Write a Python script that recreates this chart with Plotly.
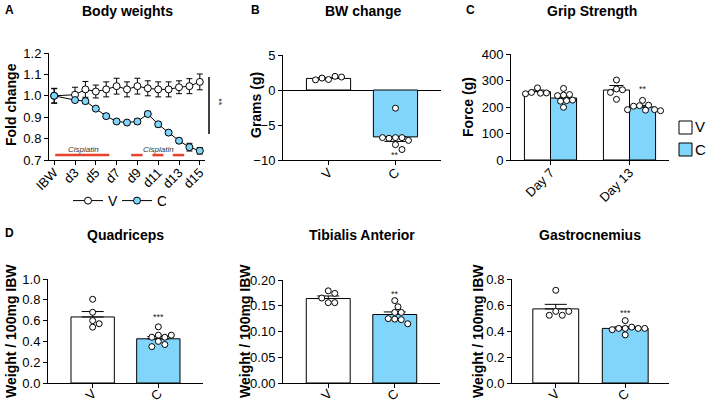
import plotly.graph_objects as go

W, H = 708, 403
BLUE = '#81D4FA'
RED = '#E8412C'
FONT = 'Arial, Liberation Sans, sans-serif'

# ---------------- Panel A: body weights (fold change) ----------------
days = [1, 3, 4, 5, 6, 7, 8, 9, 10, 11, 12, 13, 14, 15]
day_ticks = [1, 3, 5, 7, 9, 11, 13, 15]
day_labels = ['IBW', 'd3', 'd5', 'd7', 'd9', 'd11', 'd13', 'd15']
bw_v = [1.0, 1.005, 1.03, 1.02, 1.03, 1.045, 1.03, 1.045, 1.035, 1.03, 1.03, 1.04, 1.045, 1.065]
bw_v_err = [0.035, 0.035, 0.037, 0.03, 0.035, 0.037, 0.035, 0.037, 0.035, 0.035, 0.035, 0.03, 0.035, 0.037]
bw_c = [1.0, 0.98, 0.975, 0.94, 0.905, 0.88, 0.875, 0.88, 0.915, 0.867, 0.828, 0.79, 0.76, 0.743]
bw_c_err = [0.033, 0.008, 0.008, 0.008, 0.01, 0.01, 0.01, 0.012, 0.012, 0.012, 0.01, 0.012, 0.018, 0.015]
cis_start = [1.1, 8.4, 10.45, 12.4]
cis_end = [6.3, 9.5, 11.5, 13.5]
cis_label_day = [3.8, 11.0]

# ---------------- Panel B: BW change ----------------
groups = ['V', 'C']
bwchg_mean = [1.65, -6.7]
bwchg_sem = [0.1, 0.65]
bwchg_v_pts = [1.5, 1.95, 1.7, 1.85, 1.45]
bwchg_c_pts = [-2.6, -6.8, -6.8, -6.9, -7.2, -6.8, -7.8, -8.5]

# ---------------- Panel C: grip strength ----------------
grip_days = ['Day 7', 'Day 13']
grip_v_mean = [258, 264]
grip_v_sem = [6, 17]
grip_c_mean = [234, 200]
grip_c_sem = [8, 6]
grip_v_pts = [[272, 252, 255, 253, 250], [302, 268, 265, 255, 229]]
grip_c_pts = [[270, 245, 247, 243, 224, 226, 222, 199], [225, 207, 205, 203, 190, 188, 190, 186]]

# ---------------- Panel D: muscle weights ----------------
quad_mean = [0.635, 0.425]
quad_sem = [0.052, 0.022]
quad_v_pts = [0.805, 0.68, 0.6, 0.57, 0.537]
quad_c_pts = [0.54, 0.46, 0.44, 0.44, 0.46, 0.40, 0.37, 0.35]

ta_mean = [0.164, 0.133]
ta_sem = [0.005, 0.005]
ta_v_pts = [0.179, 0.174, 0.156, 0.165, 0.156]
ta_c_pts = [0.16, 0.148, 0.137, 0.137, 0.124, 0.123, 0.125, 0.115]

gas_mean = [0.57, 0.42]
gas_sem = [0.035, 0.012]
gas_v_pts = [0.713, 0.551, 0.521, 0.521, 0.551]
gas_c_pts = [0.48, 0.42, 0.43, 0.42, 0.42, 0.41, 0.42, 0.37]


def px(x):
    return x / W


def py(y):
    return 1 - y / H


# axis boxes in pixels: (left, right, top, bottom)
boxes = {
    1: (49, 205, 53, 160),
    2: (283, 441, 55, 160),
    3: (511, 669, 54, 160),
    4: (48, 203, 279, 383),
    5: (283, 440, 280, 383),
    6: (512, 669, 279, 383),
}
xranges = {1: [0.5, 15.5], 2: [-0.68, 1.68], 3: [-0.5, 1.5], 4: [-0.68, 1.68], 5: [-0.68, 1.68], 6: [-0.63, 1.63]}
yranges = {1: [0.7, 1.2], 2: [-10, 5], 3: [0, 400], 4: [0, 1.0], 5: [0, 0.2], 6: [0, 0.8]}


def swarm(vals, k, d=6.5):
    """Beeswarm offsets (in x data units) for the values on subplot k."""
    l, r, t, b = boxes[k]
    ypu = (b - t) / (yranges[k][1] - yranges[k][0])
    xpu = (r - l) / (xranges[k][1] - xranges[k][0])
    placed, offs = [], []
    for v in vals:
        yp = v * ypu
        chosen = 0.0
        found = False
        for step in range(0, 40):
            for sgn in ([0] if step == 0 else [1, -1]):
                xo = sgn * step * d * 0.5
                if all((xo - a) ** 2 + (yp - c) ** 2 >= d * d * 0.92 for a, c in placed):
                    chosen = xo
                    found = True
                    break
            if found:
                break
        placed.append((chosen, yp))
        offs.append(chosen / xpu)
    return offs


fig = go.Figure()

# ---- Panel A traces ----
fig.add_trace(go.Scatter(
    x=days, y=bw_v, mode='lines+markers', name='V',
    line=dict(color='black', width=1),
    marker=dict(size=7, color='white', line=dict(color='black', width=1)),
    error_y=dict(type='data', array=bw_v_err, color='black', thickness=1, width=3),
    xaxis='x', yaxis='y'))
fig.add_trace(go.Scatter(
    x=days, y=bw_c, mode='lines+markers', name='C',
    line=dict(color='black', width=1),
    marker=dict(size=7, color=BLUE, line=dict(color='black', width=1)),
    error_y=dict(type='data', array=bw_c_err, color='black', thickness=1, width=3),
    xaxis='x', yaxis='y'))


def bar_panel(k, means, sems, vpts, cpts):
    xa = 'x' + str(k)
    ya = 'y' + str(k)
    up = [s if m >= 0 else 0 for m, s in zip(means, sems)]
    down = [s if m < 0 else 0 for m, s in zip(means, sems)]
    fig.add_trace(go.Bar(
        x=[0, 1], y=means, width=0.66,
        marker=dict(color=['white', BLUE], line=dict(color='black', width=1)),
        error_y=dict(type='data', symmetric=False, array=up, arrayminus=down,
                     color='black', thickness=1, width=11),
        showlegend=False, xaxis=xa, yaxis=ya))
    for gi, pts in enumerate([vpts, cpts]):
        offs = swarm(pts, k)
        fig.add_trace(go.Scatter(
            x=[gi + o for o in offs], y=pts, mode='markers',
            marker=dict(size=6, color='white', line=dict(color='black', width=1)),
            showlegend=False, xaxis=xa, yaxis=ya))


bar_panel(2, bwchg_mean, bwchg_sem, bwchg_v_pts, bwchg_c_pts)
bar_panel(4, quad_mean, quad_sem, quad_v_pts, quad_c_pts)
bar_panel(5, ta_mean, ta_sem, ta_v_pts, ta_c_pts)
bar_panel(6, gas_mean, gas_sem, gas_v_pts, gas_c_pts)

# ---- Panel C grouped bars ----
half = 0.165
fig.add_trace(go.Bar(
    x=[i - half for i in range(len(grip_days))], y=grip_v_mean, width=0.33, name='V',
    marker=dict(color='white', line=dict(color='black', width=1)),
    error_y=dict(type='data', symmetric=False, array=grip_v_sem, arrayminus=[0, 0],
                 color='black', thickness=1, width=7),
    xaxis='x3', yaxis='y3', showlegend=False))
fig.add_trace(go.Bar(
    x=[i + half for i in range(len(grip_days))], y=grip_c_mean, width=0.33, name='C',
    marker=dict(color=BLUE, line=dict(color='black', width=1)),
    error_y=dict(type='data', symmetric=False, array=grip_c_sem, arrayminus=[0, 0],
                 color='black', thickness=1, width=7),
    xaxis='x3', yaxis='y3', showlegend=False))
for i in range(len(grip_days)):
    for sh, pts in [(-half, grip_v_pts[i]), (half, grip_c_pts[i])]:
        offs = swarm(pts, 3, d=6.0)
        fig.add_trace(go.Scatter(
            x=[i + sh + o for o in offs], y=pts, mode='markers',
            marker=dict(size=6, color='white', line=dict(color='black', width=1)),
            showlegend=False, xaxis='x3', yaxis='y3'))

# ---- axes ----
axbase = dict(showline=True, linecolor='black', linewidth=1, ticks='outside', ticklen=4,
              tickwidth=1, tickcolor='black', showgrid=False, zeroline=False, automargin=False,
              tickfont=dict(family=FONT, size=13, color='black'), fixedrange=True)
layout = {}
for k, (l, r, t, b) in boxes.items():
    xs = '' if k == 1 else str(k)
    xa = dict(axbase, domain=[px(l), px(r)], range=xranges[k], anchor='y' + xs, tickangle=-45,
              ticklabelstandoff=-5)
    ya = dict(axbase, domain=[py(b), py(t)], range=yranges[k], anchor='x' + xs)
    layout['xaxis' + xs] = xa
    layout['yaxis' + xs] = ya

layout['xaxis'].update(tickvals=day_ticks, ticktext=day_labels)
layout['yaxis'].update(tickvals=[0.7, 0.8, 0.9, 1.0, 1.1, 1.2], tickformat='.1f')
for k in [2, 4, 5, 6]:
    layout['xaxis' + str(k)].update(tickvals=[0, 1], ticktext=groups)
for k in [4, 5, 6]:
    layout['xaxis' + str(k)].update(ticklabelstandoff=-7)
layout['xaxis3'].update(tickvals=[0, 1], ticktext=grip_days)
layout['yaxis2'].update(tickvals=[-10, -5, 0, 5], zeroline=True, zerolinecolor='black', zerolinewidth=1)
layout['yaxis3'].update(tickvals=[0, 100, 200, 300, 400])
layout['yaxis4'].update(tickvals=[0, 0.2, 0.4, 0.6, 0.8, 1.0], tickformat='.1f')
layout['yaxis5'].update(tickvals=[0, 0.05, 0.1, 0.15, 0.2], tickformat='.2f')
layout['yaxis6'].update(tickvals=[0, 0.2, 0.4, 0.6, 0.8], tickformat='.1f')

# ---- annotations ----
ann = []


def text(x, y, s, size=13, bold=False, angle=0, italic=False, color='black', xanchor='center'):
    if bold:
        s = '<b>' + s + '</b>'
    if italic:
        s = '<i>' + s + '</i>'
    ann.append(dict(x=px(x), y=py(y), xref='paper', yref='paper', text=s, showarrow=False,
                    textangle=angle, xanchor=xanchor, yanchor='middle',
                    font=dict(family=FONT, size=size, color=color)))


# titles
text(127, 11, 'Body weights', 14, True)
text(363, 11, 'BW change', 14, True)
text(592, 11, 'Grip Strength', 14, True)
text(125, 235, 'Quadriceps', 14, True)
text(362, 235, 'Tibialis Anterior', 14, True)
text(590, 235, 'Gastrocnemius', 14, True)
# panel letters
text(9, 10, 'A', 12, True)
text(255, 10, 'B', 12, True)
text(470, 10, 'C', 12, True)
text(9, 233, 'D', 12, True)
# y-axis titles
text(11, 105, 'Fold change', 14, True, -90)
text(256, 105, 'Grams (g)', 14, True, -90)
text(468, 107, 'Force (g)', 14, True, -90)
text(11, 331, 'Weight / 100mg IBW', 14, True, -90)
text(245, 331, 'Weight / 100mg IBW', 14, True, -90)
text(478, 331, 'Weight / 100mg IBW', 14, True, -90)
# manual legend for grip strength panel
text(693, 127, 'V', 15, xanchor='left')
text(693, 149, 'C', 15, xanchor='left')

# significance marks
ann.append(dict(x=212 / W, y=0.97, xref='paper', yref='y', text='**', showarrow=False, textangle=90,
                font=dict(family=FONT, size=9, color='#222')))
for xr, yr, xv, yv, s in [('x2', 'y2', 1, -9.3, '**'), ('x3', 'y3', 1 + half, 268, '**'),
                          ('x4', 'y4', 1, 0.63, '***'), ('x5', 'y5', 1, 0.173, '**'),
                          ('x6', 'y6', 1, 0.54, '***')]:
    ann.append(dict(x=xv, y=yv, xref=xr, yref=yr, text=s, showarrow=False,
                    font=dict(family=FONT, size=9, color='#222')))
# cisplatin labels
for d in cis_label_day:
    ann.append(dict(x=d, y=0.748, xref='x', yref='y', text='<i>Cisplatin</i>', showarrow=False,
                    font=dict(family=FONT, size=8, color='#333')))

shapes = []
for s0, s1 in zip(cis_start, cis_end):
    shapes.append(dict(type='line', xref='x', yref='y', x0=s0, x1=s1, y0=0.723, y1=0.723,
                       line=dict(color=RED, width=2.5)))
shapes.append(dict(type='line', xref='paper', yref='y', x0=209 / W, x1=209 / W, y0=0.822, y1=1.088,
                   line=dict(color='black', width=1.5)))
# legend squares for panel C
for (y0, y1), col in [((121, 134), 'white'), ((143, 156), BLUE)]:
    shapes.append(dict(type='rect', xref='paper', yref='paper', x0=px(679), x1=px(692),
                       y0=py(y1), y1=py(y0), fillcolor=col, line=dict(color='black', width=1)))

fig.update_layout(
    width=W, height=H, margin=dict(l=0, r=0, t=0, b=0, autoexpand=False),
    paper_bgcolor='white', plot_bgcolor='white', barmode='overlay',
    font=dict(family=FONT, color='black'),
    annotations=ann, shapes=shapes,
    legend=dict(orientation='h', x=px(68), y=py(201), xanchor='left', yanchor='middle',
                font=dict(family=FONT, size=14), itemwidth=30, bgcolor='rgba(0,0,0,0)',
                entrywidth=4, entrywidthmode='pixels', tracegroupgap=0),
    **layout)

fig.write_html('out.html', config={'displayModeBar': False},
               post_script="document.body.style.margin='0';document.body.style.overflow='hidden';")
